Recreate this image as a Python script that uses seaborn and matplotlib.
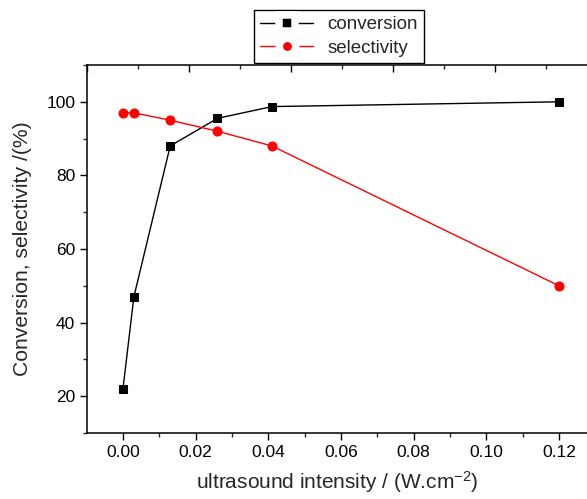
import numpy as np
import pandas as pd
import seaborn as sns
from matplotlib import pyplot as plt
from matplotlib.lines import Line2D
from matplotlib.ticker import MultipleLocator, NullFormatter

intensity = [0.0, 0.003, 0.013, 0.026, 0.041, 0.12]
conversion = [22, 47, 88, 95.5, 98.7, 100]
selectivity = [97, 97, 95, 92, 88, 50]

sns.set_style("ticks")
plt.rcParams['font.family'] = ['Liberation Sans', 'DejaVu Sans']

df = pd.DataFrame({"intensity": intensity, "conversion": conversion, "selectivity": selectivity})

fig = plt.figure(figsize=(5.87, 4.99), dpi=100)
ax = fig.add_axes([87 / 587, 1 - 433 / 499, 500 / 587, 368 / 499])

sns.lineplot(data=df, x="intensity", y="conversion", ax=ax, color="black", marker="s",
             markersize=6, markeredgecolor="black", linewidth=1, legend=False)
sns.lineplot(data=df, x="intensity", y="selectivity", ax=ax, color="red", marker="o",
             markersize=6.5, markeredgecolor="red", linewidth=1, legend=False)

ax.set_xlim(-0.0099, 0.1277)
ax.set_ylim(10, 110)
ax.xaxis.set_major_locator(MultipleLocator(0.02))
ax.xaxis.set_minor_locator(MultipleLocator(0.01))
ax.yaxis.set_major_locator(MultipleLocator(20))
ax.yaxis.set_minor_locator(MultipleLocator(10))
ax.xaxis.set_major_formatter(plt.FuncFormatter(lambda v, p: f"{v:.2f}"))
ax.tick_params(which="major", length=5, width=1, labelsize=12.5, colors="black", direction="out")
ax.tick_params(which="minor", length=3, width=1, direction="out")
for sp in ax.spines.values():
    sp.set_linewidth(1.1)
    sp.set_color("black")
ax.spines["right"].set_visible(False)
ax.spines["top"].set_visible(False)

# mirrored top axis with inward ticks
top = ax.twiny()
top.set_xlim(0, 500 / 102)
top.xaxis.set_major_locator(MultipleLocator(1))
top.xaxis.set_minor_locator(MultipleLocator(0.5))
top.xaxis.set_major_formatter(NullFormatter())
top.tick_params(which="major", length=5, width=1, direction="in", colors="black")
top.tick_params(which="minor", length=3, width=1, direction="in")
top.tick_params(axis="y", left=False, right=False, labelleft=False, labelright=False)
for name, sp in top.spines.items():
    sp.set_visible(name == "top")
top.spines["top"].set_linewidth(1.1)
top.spines["top"].set_color("black")

ax.set_xlabel(r"ultrasound intensity / (W.cm$\mathregular{^{-2}}$)", fontsize=15, labelpad=7)
ax.set_ylabel("Conversion, selectivity /(%)", fontsize=15.2, labelpad=10)

handles = [
    (Line2D([], [], color="black", lw=1),
     Line2D([], [], color="black", marker="s", ls="none", ms=11, mew=5.4, mec="white")),
    (Line2D([], [], color="red", lw=1),
     Line2D([], [], color="red", marker="o", ls="none", ms=11.8, mew=5.4, mec="white")),
]
leg = fig.legend(handles, ["conversion", "selectivity"], loc="upper center",
                 bbox_to_anchor=(0.5775, 0.980), bbox_transform=fig.transFigure,
                 frameon=True, fancybox=False, edgecolor="black", fontsize=13.5,
                 handlelength=2.8, borderpad=0.32, labelspacing=0.35, handletextpad=0.75,
                 borderaxespad=0, framealpha=1)
leg.get_frame().set_linewidth(1)

fig.savefig("out.png", dpi=100)
